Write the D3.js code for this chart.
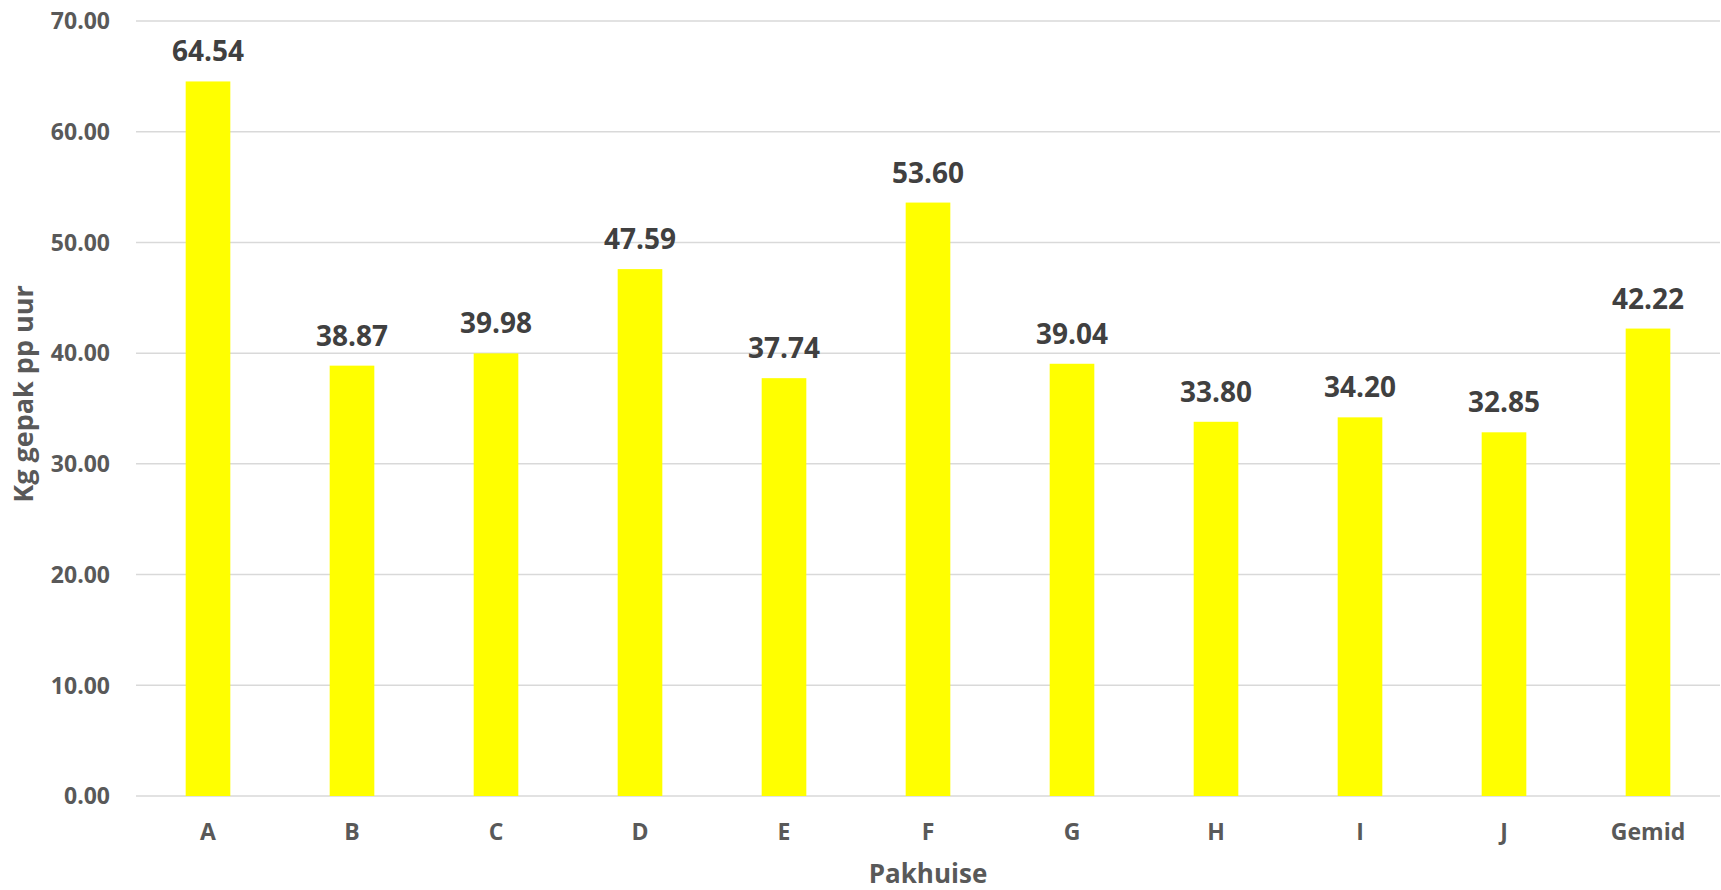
<!DOCTYPE html>
<html>
<head>
<meta charset="utf-8">
<script src="https://cdn.jsdelivr.net/npm/d3@7"></script>
<style>
  body { margin: 0; background: #fff; }
  text { font-family: "Open Sans", sans-serif; font-weight: bold; }
</style>
</head>
<body>
<div id="chart"></div>
<script>
// frame size
const FRAME_WIDTH = 1721;
const FRAME_HEIGHT = 890;
const MARGINS = {left: 136, right: 1, top: 21, bottom: 94};

const VIS_WIDTH = FRAME_WIDTH - MARGINS.left - MARGINS.right;
const VIS_HEIGHT = FRAME_HEIGHT - MARGINS.top - MARGINS.bottom;

// data
const pakhuise = ["A", "B", "C", "D", "E", "F", "G", "H", "I", "J", "Gemid"];
const kgPerUur = [64.54, 38.87, 39.98, 47.59, 37.74, 53.60, 39.04, 33.80, 34.20, 32.85, 42.22];
const yTicks = [0, 10, 20, 30, 40, 50, 60, 70];

const FRAME = d3.select("#chart")
  .append("svg")
  .attr("width", FRAME_WIDTH)
  .attr("height", FRAME_HEIGHT);

const X_SCALE = d3.scaleBand()
  .domain(pakhuise)
  .range([MARGINS.left, MARGINS.left + VIS_WIDTH])
  .paddingInner(0.69)
  .paddingOuter(0.345);

const Y_SCALE = d3.scaleLinear()
  .domain([0, 70])
  .range([MARGINS.top + VIS_HEIGHT, MARGINS.top]);

// gridlines
FRAME.append("g")
  .selectAll("line")
  .data(yTicks)
  .enter()
  .append("line")
    .attr("x1", MARGINS.left)
    .attr("x2", MARGINS.left + VIS_WIDTH)
    .attr("y1", d => Y_SCALE(d))
    .attr("y2", d => Y_SCALE(d))
    .style("stroke", "#d9d9d9")
    .style("stroke-width", 1.5);

// y axis labels
FRAME.append("g")
  .selectAll("text")
  .data(yTicks)
  .enter()
  .append("text")
    .attr("x", 110)
    .attr("y", d => Y_SCALE(d))
    .attr("dy", "0.36em")
    .attr("text-anchor", "end")
    .style("font-size", "23px")
    .style("fill", "#595959")
    .text(d => d.toFixed(2));

// bars
FRAME.selectAll(".bar")
  .data(kgPerUur)
  .enter()
  .append("rect")
    .attr("class", "bar")
    .attr("x", (d, i) => X_SCALE(pakhuise[i]))
    .attr("y", d => Y_SCALE(d))
    .attr("width", X_SCALE.bandwidth())
    .attr("height", d => Y_SCALE(0) - Y_SCALE(d))
    .style("fill", "#ffff00");

// value labels
FRAME.selectAll(".val")
  .data(kgPerUur)
  .enter()
  .append("text")
    .attr("class", "val")
    .attr("x", (d, i) => X_SCALE(pakhuise[i]) + X_SCALE.bandwidth() / 2)
    .attr("y", d => Y_SCALE(d) - 20)
    .attr("text-anchor", "middle")
    .style("font-size", "28px")
    .style("fill", "#404040")
    .text(d => d.toFixed(2));

// category labels
FRAME.append("g")
  .selectAll("text")
  .data(pakhuise)
  .enter()
  .append("text")
    .attr("x", d => X_SCALE(d) + X_SCALE.bandwidth() / 2)
    .attr("y", 840)
    .attr("text-anchor", "middle")
    .style("font-size", "23px")
    .style("fill", "#595959")
    .text(d => d);

// axis titles
FRAME.append("text")
  .attr("x", MARGINS.left + VIS_WIDTH / 2)
  .attr("y", 883)
  .attr("text-anchor", "middle")
  .style("font-size", "26px")
  .style("fill", "#595959")
  .text("Pakhuise");

FRAME.append("text")
  .attr("transform", "translate(33," + 394 + ") rotate(-90)")
  .attr("text-anchor", "middle")
  .style("font-size", "27px")
  .style("fill", "#595959")
  .text("Kg gepak pp uur");
</script>
</body>
</html>
